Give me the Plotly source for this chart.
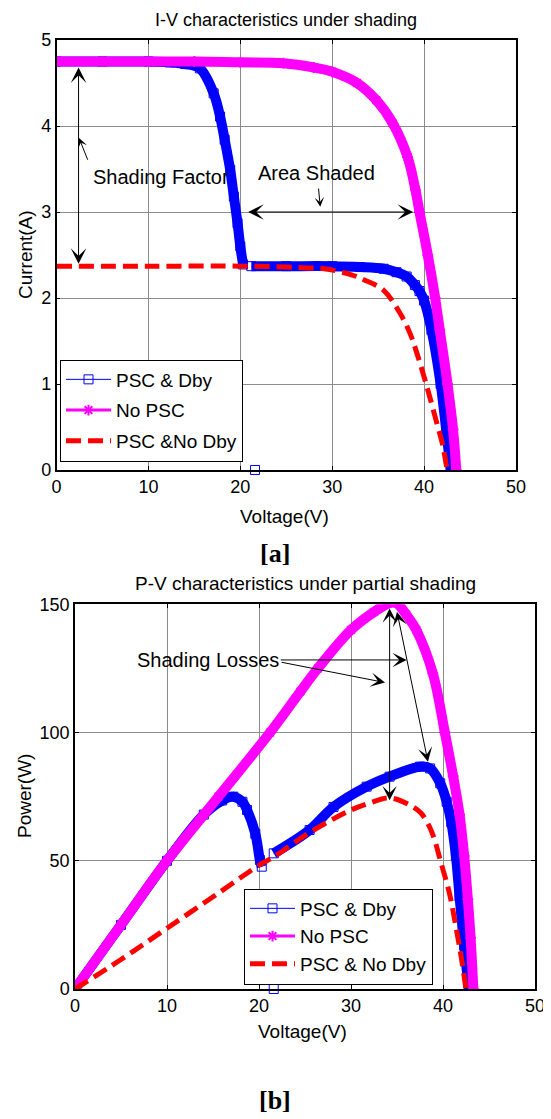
import plotly.graph_objects as go

# ---------------- data ----------------
# I-V characteristics (Voltage in V, Current in A); None marks the jump between the two parts
iv_v_dby = [0, 5, 10, 12.3, 14, 15.6, 17.1, 17.8, 18.3, 18.9, 19.3, 19.7, 20.0, 20.3, None, 21.2,
            25, 30, 33, 35.6, 37, 38.1, 39.0, 39.5, 40.0, 40.8, 41.8, 42.4, 42.9]
iv_i_dby = [4.75, 4.75, 4.75, 4.74, 4.72, 4.67, 4.38, 4.11, 3.84, 3.49, 3.18, 2.87, 2.60, 2.39, None, 2.37,
            2.37, 2.37, 2.36, 2.34, 2.30, 2.25, 2.15, 2.08, 1.97, 1.63, 1.0, 0.47, 0.0]

iv_v_nopsc = [0, 5, 10, 15, 20, 24.7, 28, 30, 32.7, 34.8, 36.6, 38.2, 39.05, 39.5, 40.4,
              41.2, 41.7, 42.55, 43.15, 43.5]
iv_i_nopsc = [4.75, 4.75, 4.75, 4.75, 4.74, 4.73, 4.68, 4.63, 4.50, 4.30, 4.03, 3.64, 3.26, 3.0, 2.5,
              2.0, 1.63, 1.0, 0.47, 0.0]

iv_v_nodby = [0, 10, 20, 25, 27.3, 29.2, 32.1, 33.5, 35.6, 37.4, 38.5, 39.3, 40.3, 41.4, 42.0, 42.5]
iv_i_nodby = [2.37, 2.37, 2.37, 2.36, 2.35, 2.34, 2.27, 2.21, 2.09, 1.82, 1.58, 1.33, 0.97, 0.54, 0.3, 0.0]

# isolated marker of the "PSC & Dby" series
iv_v_out = [21.6]
iv_i_out = [0.0]

# P-V characteristics (Voltage in V, Power in W)
pv_v_dby = [0, 5, 10, 14, 16, 17.2, 18.2, 18.7, 19.6, 20.1, 20.3, None, 21.6, 25.5, 28.1, 31.7, 34.2,
            37.5, 38.6, 39.7, 40.4, 40.9, 41.4, 41.8, 42.3, 42.8]
pv_p_dby = [0, 25, 50, 68, 73.5, 75, 73, 69.8, 60.5, 50.3, 47.7, None, 52.9, 62, 71, 78.9, 82.8,
            86.7, 86, 80.2, 73, 65, 52, 36, 17, 0]

pv_v_nopsc = [0, 5, 10, 15.6, 21.2, 24.5, 26.4, 30, 32.5, 34.2, 35.0, 36, 37.1, 38.9, 40.2,
              41.1, 41.8, 42.3, 42.7, 43.0, 43.3]
pv_p_nopsc = [0, 25, 50, 75, 100, 116, 125, 140, 147, 150.5, 150.3, 146, 140, 123, 100,
              83, 68, 52, 35, 20, 0]

pv_v_nodby = [0, 5, 10, 15.8, 20.1, 21.6, 25.5, 30, 32, 34.2, 36.4, 37.6, 38.5, 39.1, 39.7,
              40.7, 41.4, 42.0, 42.5]
pv_p_nodby = [0, 11.5, 23.7, 37.9, 48.5, 51.5, 61, 69.8, 72.5, 74.5, 71.7, 68.6, 63.5, 58, 50.3,
              37.3, 24.3, 12, 0]

pv_v_out = [21.6]
pv_p_out = [0.0]

x_ticks = [0, 10, 20, 30, 40, 50]
iv_y_ticks = [0, 1, 2, 3, 4, 5]
pv_y_ticks = [0, 50, 100, 150]

names_iv = ["PSC & Dby", "No PSC", "PSC &No Dby"]
names_pv = ["PSC & Dby", "No PSC", "PSC & No Dby"]

# ---------------- styling ----------------
# the page body has an 8 px margin, so the figure is drawn 8 px smaller and
# every reference pixel position is shifted by that offset
OFF = 8
W, H = 551 - OFF, 1119 - OFF
BLUE, MAG, RED = "#0000FF", "#FF00FF", "#FF0000"
FONT = "Liberation Sans, Arial, sans-serif"
SMOOTH = 1.0


def px(x):
    return (x - OFF) / W


def py(y):
    return 1 - (y - OFF) / H


fig = go.Figure()


def add_series(xa, ya, v_dby, y_dby, v_no, y_no, v_nd, y_nd, v_out, y_out, names, legend, grp):
    # PSC & Dby: dense band of open squares
    fig.add_trace(go.Scatter(x=v_dby, y=y_dby, mode="lines", xaxis=xa, yaxis=ya,
                             line=dict(color=BLUE, width=10, shape="spline", smoothing=SMOOTH),
                             showlegend=False, hoverinfo="skip", connectgaps=False))
    fig.add_trace(go.Scatter(x=v_dby, y=y_dby, mode="lines+markers", xaxis=xa, yaxis=ya,
                             name=names[0], legend=legend, legendgroup=grp + "1",
                             line=dict(color=BLUE, width=1, shape="spline", smoothing=SMOOTH),
                             connectgaps=False,
                             marker=dict(symbol="square-open", size=9, color=BLUE,
                                         line=dict(width=1, color=BLUE))))
    fig.add_trace(go.Scatter(x=v_out, y=y_out, mode="markers", xaxis=xa, yaxis=ya,
                             marker=dict(symbol="square-open", size=9, color=BLUE,
                                         line=dict(width=1, color=BLUE)),
                             showlegend=False, cliponaxis=False, hoverinfo="skip"))
    # No PSC: dense band of star markers
    fig.add_trace(go.Scatter(x=v_no, y=y_no, mode="lines", xaxis=xa, yaxis=ya,
                             line=dict(color=MAG, width=10, shape="spline", smoothing=SMOOTH),
                             showlegend=False, hoverinfo="skip"))
    fig.add_trace(go.Scatter(x=v_no, y=y_no, mode="lines+markers", xaxis=xa, yaxis=ya,
                             name=names[1], legend=legend, legendgroup=grp + "2",
                             line=dict(color=MAG, width=3, shape="spline", smoothing=SMOOTH),
                             marker=dict(symbol="asterisk-open", size=9, color=MAG,
                                         line=dict(width=2, color=MAG))))
    # PSC & No Dby: dashed red
    fig.add_trace(go.Scatter(x=v_nd, y=y_nd, mode="lines", xaxis=xa, yaxis=ya,
                             name=names[2], legend=legend, legendgroup=grp + "3",
                             line=dict(color=RED, width=5, dash="15px,7px",
                                       shape="spline", smoothing=SMOOTH)))


add_series("x", "y", iv_v_dby, iv_i_dby, iv_v_nopsc, iv_i_nopsc, iv_v_nodby, iv_i_nodby,
           iv_v_out, iv_i_out, names_iv, "legend", "a")
add_series("x2", "y2", pv_v_dby, pv_p_dby, pv_v_nopsc, pv_p_nopsc, pv_v_nodby, pv_p_nodby,
           pv_v_out, pv_p_out, names_pv, "legend2", "b")

axis_common = dict(showline=True, mirror="ticks", linecolor="black", linewidth=1.5,
                   ticks="inside", ticklen=4, tickcolor="black", showgrid=True,
                   gridcolor="#8c8c8c", gridwidth=1, zeroline=False, automargin=False,
                   tickfont=dict(family=FONT, size=18, color="black"))

fig.update_layout(
    width=W, height=H, autosize=False,
    margin=dict(l=0, r=0, t=0, b=0, pad=0, autoexpand=False),
    paper_bgcolor="white", plot_bgcolor="white",
    font=dict(family=FONT, size=18, color="black"),
    xaxis=dict(domain=[px(56.5), px(516)], range=[0, 50], tickvals=x_ticks, anchor="y", **axis_common),
    yaxis=dict(domain=[py(470), py(40)], range=[0, 5], tickvals=iv_y_ticks, anchor="x", **axis_common),
    xaxis2=dict(domain=[px(75), px(535)], range=[0, 50], tickvals=x_ticks, anchor="y2", **axis_common),
    yaxis2=dict(domain=[py(989), py(604.3)], range=[0, 150], tickvals=pv_y_ticks, anchor="x2", **axis_common),
    legend=dict(x=px(60), y=py(359.5), xanchor="left", yanchor="top",
                bordercolor="black", borderwidth=1, bgcolor="white",
                font=dict(family=FONT, size=19, color="black"),
                itemwidth=45, tracegroupgap=3, traceorder="grouped"),
    legend2=dict(x=px(244), y=py(888.5), xanchor="left", yanchor="top",
                 bordercolor="black", borderwidth=1, bgcolor="white",
                 font=dict(family=FONT, size=19, color="black"),
                 itemwidth=45, tracegroupgap=0, traceorder="grouped"),
    showlegend=True,
)

ann = []


def text(x, y, s, size=18, angle=0, family=FONT, xanchor="center", yanchor="middle", xref="paper", yref="paper"):
    ann.append(dict(x=x, y=y, xref=xref, yref=yref, text=s, showarrow=False,
                    xanchor=xanchor, yanchor=yanchor, textangle=angle,
                    font=dict(family=family, size=size, color="black")))


def arrow(x0, y0, x1, y1, xr, yr, double=False, size=1.6):
    ann.append(dict(x=x1, y=y1, ax=x0, ay=y0, xref=xr, yref=yr, axref=xr, ayref=yr,
                    text="", showarrow=True, arrowhead=3, arrowsize=size, arrowwidth=1,
                    arrowcolor="black", startarrowhead=3, startarrowsize=size,
                    arrowside="end+start" if double else "end", standoff=0, startstandoff=0))


# titles and axis labels
text(px(286), py(20), "I-V characteristics under shading", size=18)
text(px(305), py(583), "P-V characteristics under partial shading", size=19)
text(px(284.6), py(517), "Voltage(V)", size=19)
text(px(302.5), py(1031), "Voltage(V)", size=19)
text(px(25), py(255), "Current(A)", size=19, angle=-90)
text(px(24), py(796), "Power(W)", size=19, angle=-90)
text(px(275), py(553), "<b>[a]</b>", size=26, family="Liberation Serif, Times New Roman, serif")
text(px(275), py(1100), "<b>[b]</b>", size=26, family="Liberation Serif, Times New Roman, serif")

# I-V annotations
text(3.8, 3.41, "Shading Factor", size=20, xanchor="left", xref="x", yref="y")
text(28.3, 3.45, "Area Shaded", size=20, xref="x", yref="y")
arrow(2.4, 2.38, 2.4, 4.68, "x", "y", double=True, size=2.6)
arrow(3.46, 3.59, 2.45, 3.86, "x", "y", size=1.6)
arrow(20.7, 3.0, 38.8, 3.0, "x", "y", double=True, size=2.6)
arrow(28.5, 3.29, 28.7, 3.06, "x", "y", size=1.6)

# P-V annotations
text(6.5, 128.3, "Shading Losses", size=20, xanchor="left", xref="x2", yref="y2")
arrow(22.2, 128.3, 36.05, 128.3, "x2", "y2", size=2.4)
arrow(22.3, 127.5, 33.7, 119.5, "x2", "y2", size=2.4)
arrow(34.2, 73.0, 34.2, 148.4, "x2", "y2", double=True, size=2.4)
arrow(38.4, 88.0, 35.0, 147.1, "x2", "y2", double=True, size=2.4)

fig.update_layout(annotations=ann)

fig.write_html("out.html")
